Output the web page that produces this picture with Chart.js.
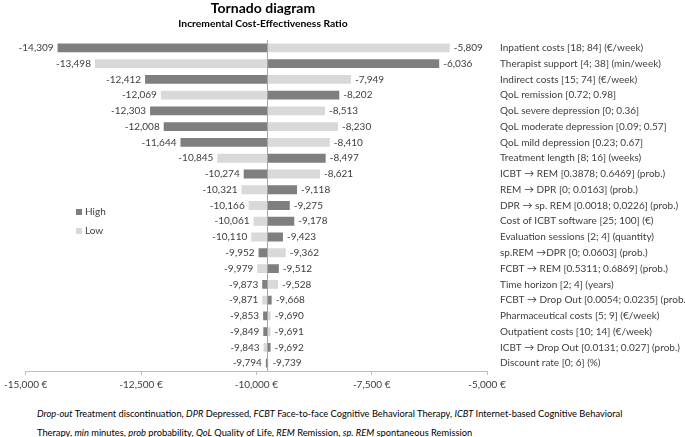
<!doctype html>
<html lang="en">
  <head>
    <meta charset="UTF-8" />
    <title>Tornado diagram</title>
    <script src="https://cdn.jsdelivr.net/npm/chart.js"></script>
    <style>
      body { margin: 0; background: #fff; font-family: Lato, "Open Sans", sans-serif; }
      #wrap { position: relative; width: 685px; height: 437px; }
      #title { position: absolute; left: 163px; width: 200px; top: -1px; text-align: center;
        font-weight: bold; font-size: 14px; color: #000; }
      #subtitle { position: absolute; left: 113px; width: 300px; top: 17px; text-align: center;
        font-weight: bold; font-size: 10.3px; color: #000; }
      #note { position: absolute; left: 37px; top: 404px; width: 640px; font-size: 9.3px;
        line-height: 19px; color: #000; white-space: nowrap; }
      canvas { position: absolute; left: 0; top: 0; }
    </style>
  </head>
  <body>
    <div id="wrap">
      <canvas id="tornado" width="685" height="400"></canvas>
      <div id="title">Tornado diagram</div>
      <div id="subtitle">Incremental Cost-Effectiveness Ratio</div>
      <div id="note">
        <i>Drop-out</i> Treatment discontinuation, <i>DPR</i> Depressed, <i>FCBT</i> Face-to-face Cognitive Behavioral Therapy, <i>ICBT</i> Internet-based Cognitive Behavioral<br />
        Therapy, <i>min</i> minutes, <i>prob</i> probability, <i>QoL</i> Quality of Life, <i>REM</i> Remission, <i>sp. REM</i> spontaneous Remission
      </div>
    </div>

    <script>
      const parameters = [
        "Inpatient costs [18; 84] (€/week)",
        "Therapist support [4; 38] (min/week)",
        "Indirect costs [15; 74] (€/week)",
        "QoL remission [0.72; 0.98]",
        "QoL severe depression [0; 0.36]",
        "QoL moderate depression [0.09; 0.57]",
        "QoL mild depression [0.23; 0.67]",
        "Treatment length [8; 16] (weeks)",
        "ICBT → REM [0.3878; 0.6469] (prob.)",
        "REM → DPR [0; 0.0163] (prob.)",
        "DPR → sp. REM [0.0018; 0.0226] (prob.)",
        "Cost of ICBT software [25; 100] (€)",
        "Evaluation sessions [2; 4] (quantity)",
        "sp.REM →DPR [0; 0.0603] (prob.)",
        "FCBT → REM [0.5311; 0.6869] (prob.)",
        "Time horizon [2; 4] (years)",
        "FCBT → Drop Out [0.0054; 0.0235] (prob.)",
        "Pharmaceutical costs [5; 9] (€/week)",
        "Outpatient costs [10; 14] (€/week)",
        "ICBT → Drop Out [0.0131; 0.027] (prob.)",
        "Discount rate [0; 6] (%)",
      ];
      // ICER at the high / low end of each parameter range
      const highValues = [
        -14309, -6036, -12412, -8202, -12303, -12008, -11644, -8497, -10274,
        -9118, -9275, -9178, -9423, -9952, -9512, -9873, -9668, -9853, -9849,
        -9692, -9794,
      ];
      const lowValues = [
        -5809, -13498, -7949, -12069, -8513, -8230, -8410, -10845, -8621,
        -10321, -10166, -10061, -10110, -9362, -9979, -9528, -9871, -9690,
        -9691, -9843, -9739,
      ];
      const baseIcer = -9766;
      const xTicks = [-15000, -12500, -10000, -7500, -5000];

      const darkGrey = "#7f7f7f";
      const lightGrey = "#d9d9d9";
      const textGrey = "#404040";
      const fontFamily = "Lato, 'Open Sans', sans-serif";

      const fmt = (v) => v.toLocaleString("en-US");

      // value labels at the bar ends, base line and legend
      const tornadoExtras = {
        id: "tornadoExtras",
        afterDatasetsDraw(chart) {
          const ctx = chart.ctx;
          const area = chart.chartArea;
          const xs = chart.scales.x;
          ctx.save();
          const bx = Math.round(xs.getPixelForValue(baseIcer)) + 0.5;
          ctx.strokeStyle = "#a6a6a6";
          ctx.lineWidth = 1;
          ctx.beginPath();
          ctx.moveTo(bx, area.top);
          ctx.lineTo(bx, area.bottom);
          ctx.stroke();

          ctx.font = "10px " + fontFamily;
          ctx.fillStyle = textGrey;
          ctx.textBaseline = "middle";
          chart.data.datasets.forEach((ds, di) => {
            chart.getDatasetMeta(di).data.forEach((bar, i) => {
              const v = ds.data[i][1];
              const left = Math.min(bar.x, bar.base);
              const right = Math.max(bar.x, bar.base);
              if (v < baseIcer) {
                ctx.textAlign = "right";
                ctx.fillText(fmt(v), left - 4, bar.y);
              } else {
                ctx.textAlign = "left";
                ctx.fillText(fmt(v), right + 4, bar.y);
              }
            });
          });

          // legend
          ctx.textAlign = "left";
          chart.data.datasets.forEach((ds, di) => {
            const y = 212 + di * 19;
            ctx.fillStyle = ds.backgroundColor;
            ctx.fillRect(76, y - 3, 6, 6);
            ctx.fillStyle = textGrey;
            ctx.fillText(ds.label, 85, y);
          });
          ctx.restore();
        },
      };

      const ctx = document.getElementById("tornado").getContext("2d");
      const chart = new Chart(ctx, {
        type: "bar",
        data: {
          labels: parameters,
          datasets: [
            {
              label: "High",
              data: highValues.map((v) => [baseIcer, v]),
              backgroundColor: darkGrey,
              grouped: false,
              barPercentage: 0.56,
              categoryPercentage: 1,
            },
            {
              label: "Low",
              data: lowValues.map((v) => [baseIcer, v]),
              backgroundColor: lightGrey,
              grouped: false,
              barPercentage: 0.56,
              categoryPercentage: 1,
            },
          ],
        },
        options: {
          indexAxis: "y",
          responsive: false,
          animation: false,
          layout: { padding: { left: 21, top: 40, right: 0, bottom: 5 } },
          plugins: {
            legend: { display: false },
            tooltip: { enabled: false },
          },
          scales: {
            x: {
              min: -15000,
              max: -5000,
              afterBuildTicks: (scale) => {
                scale.ticks = xTicks.map((v) => ({ value: v }));
              },
              afterFit: (scale) => {
                scale.height = 24;
              },
              border: { display: true, color: "#bfbfbf" },
              grid: {
                drawOnChartArea: false,
                drawTicks: true,
                tickLength: 4,
                color: "#bfbfbf",
              },
              ticks: {
                color: textGrey,
                font: { family: fontFamily, size: 10 },
                padding: 4,
                maxRotation: 0,
                callback: (v) => fmt(v) + " €",
              },
            },
            y: {
              position: "right",
              afterFit: (scale) => {
                scale.width = 198;
              },
              border: { display: false },
              grid: { display: false, drawTicks: false },
              ticks: {
                color: textGrey,
                font: { family: fontFamily, size: 10 },
                padding: 13,
                autoSkip: false,
              },
            },
          },
        },
        plugins: [tornadoExtras],
      });
    </script>
  </body>
</html>
